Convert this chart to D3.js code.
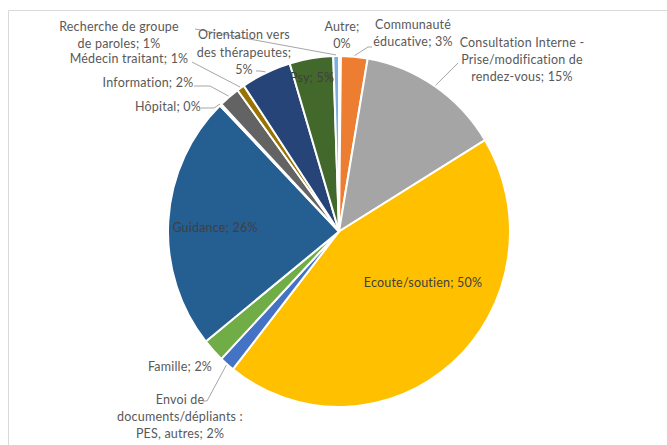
<!DOCTYPE html>
<html>
<head>
<meta charset="utf-8">
<script src="https://cdn.jsdelivr.net/npm/d3@7"></script>
<style>
  html, body { margin: 0; padding: 0; background: #fff; }
  svg { display: block; }
  text { font-family: "Lato", "Open Sans", sans-serif; font-size: 12.5px; letter-spacing: 0.2px; }
</style>
</head>
<body>
<svg id="chart" width="667" height="445"></svg>
<script>
// Request categories (slices drawn clockwise from 12 o'clock)
const categories = [
  "Autre",
  "Communauté éducative",
  "Consultation Interne - Prise/modification de rendez-vous",
  "Ecoute/soutien",
  "Envoi de documents/dépliants : PES, autres",
  "Famille",
  "Guidance",
  "Hôpital",
  "Information",
  "Médecin traitant",
  "Orientation vers des thérapeutes",
  "Psy",
  "Recherche de groupe de paroles"
];

// Share of requests (%) per category
const values = [0.2, 2.8, 15.2, 49.6, 1.6, 2.4, 26.3, 0.2, 2.2, 0.8, 5.3, 4.6, 0.6];

const colors = [
  "#4472C4", "#ED7D31", "#A5A5A5", "#FFC000", "#4472C4", "#70AD47",
  "#255E91", "#9E480E", "#636363", "#997300", "#264478", "#43682B", "#7CAFDD"
];

// Label placement: words per line, block centre x, first baseline y,
// optional leader start / elbow, inside labels use dark text
const labelLayout = {
  "Autre":                 { words: [1, 1], x: 342, y: 31 },
  "Communauté éducative":  { words: [1, 2], x: 413, y: 29, leader: [[372, 47], [368, 47]] },
  "Consultation Interne - Prise/modification de rendez-vous":
                           { words: [3, 2, 2], x: 522, y: 47, leader: [[458, 63]] },
  "Ecoute/soutien":        { words: [2], x: 423, y: 287, inside: true },
  "Envoi de documents/dépliants : PES, autres":
                           { words: [2, 2, 3], x: 180, y: 404, leader: [[203, 401], [207, 401]] },
  "Famille":               { words: [2], x: 180, y: 371 },
  "Guidance":              { words: [2], x: 215, y: 232, inside: true },
  "Hôpital":               { words: [2], x: 168, y: 111, leader: [[201, 108], [214, 108]] },
  "Information":           { words: [2], x: 148, y: 87, leader: [[194, 86], [210, 86]] },
  "Médecin traitant":      { words: [3], x: 129, y: 63, leader: [[192, 62]] },
  "Orientation vers des thérapeutes":
                           { words: [2, 2, 1], x: 244, y: 39, lineH: 17.5, leader: [[256, 71], [260, 71]] },
  "Psy":                   { words: [2], x: 312, y: 82, inside: true },
  "Recherche de groupe de paroles":
                           { words: [3, 3], x: 119, y: 31, leader: [[195, 29]] }
};

const data = categories.map((name, i) => ({ name, value: values[i], color: colors[i] }));

const svg = d3.select("#chart");

// Chart area frame
svg.append("path")
  .attr("d", "M8.5,445 L8.5,10.5 L667,10.5")
  .attr("fill", "none")
  .attr("stroke", "#d9d9d9")
  .attr("stroke-width", 1);

const cx = 339, cy = 231.5, R = 171, sy = 175.5 / 171;

const pie = d3.pie().sort(null).value(d => d.value);
const arcs = pie(data);
const arc = d3.arc().innerRadius(0).outerRadius(R);
const edgeArc = d3.arc().innerRadius(R + 1).outerRadius(R + 1);

const g = svg.append("g").attr("transform", `translate(${cx},${cy}) scale(1,${sy})`);

g.selectAll("path.slice")
  .data(arcs)
  .join("path")
  .attr("class", "slice")
  .attr("d", arc)
  .attr("fill", d => d.data.color)
  .attr("stroke", "#fff")
  .attr("stroke-width", 2)
  .attr("vector-effect", "non-scaling-stroke");

const fmt = d3.format(".0f");
const labelText = d => `${d.data.name}; ${fmt(d.data.value)}%`;

// Leader lines from label to slice edge
arcs.forEach(d => {
  const L = labelLayout[d.data.name];
  if (!L || !L.leader) return;
  const [ex, ey] = edgeArc.centroid(d);
  const pts = L.leader.concat([[cx + ex, cy + ey * sy]]);
  svg.append("path")
    .attr("d", d3.line()(pts))
    .attr("fill", "none")
    .attr("stroke", "#a6a6a6")
    .attr("stroke-width", 1);
});

// Data labels
arcs.forEach(d => {
  const L = labelLayout[d.data.name];
  const words = labelText(d).split(" ");
  const lines = [];
  let k = 0;
  L.words.forEach(n => { lines.push(words.slice(k, k + n).join(" ")); k += n; });
  const lh = L.lineH || 17;
  const t = svg.append("text")
    .attr("text-anchor", "middle")
    .attr("fill", L.inside ? "#404040" : "#595959");
  lines.forEach((s, i) => {
    t.append("tspan").attr("x", L.x).attr("y", L.y + i * lh).text(s);
  });
});
</script>
</body>
</html>
